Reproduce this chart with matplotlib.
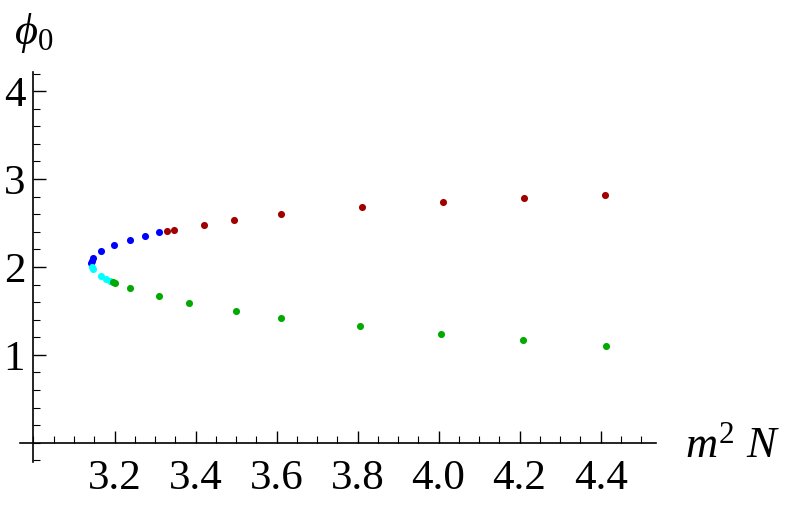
import matplotlib
matplotlib.use("Agg")
import matplotlib.pyplot as plt
from matplotlib.ticker import MultipleLocator

plt.rcParams["font.family"] = ["Liberation Serif", "DejaVu Serif"]
plt.rcParams["mathtext.fontset"] = "custom"
plt.rcParams["mathtext.it"] = "Liberation Serif:italic"
plt.rcParams["mathtext.rm"] = "Liberation Serif"

blue_x = [3.311, 3.275, 3.238, 3.198, 3.166, 3.147, 3.144, 3.141]
blue_y = [2.394, 2.356, 2.310, 2.250, 2.178, 2.105, 2.071, 2.041]
cyan_x = [3.145, 3.148, 3.166, 3.180, 3.189]
cyan_y = [2.003, 1.977, 1.901, 1.867, 1.844]
green_x = [3.196, 3.200, 3.238, 3.311, 3.385, 3.500, 3.612, 3.807, 4.007, 4.209, 4.414]
green_y = [1.826, 1.820, 1.758, 1.667, 1.594, 1.503, 1.420, 1.330, 1.240, 1.170, 1.100]
red_x = [3.329, 3.348, 3.422, 3.496, 3.610, 3.810, 4.010, 4.210, 4.410]
red_y = [2.406, 2.420, 2.480, 2.530, 2.600, 2.680, 2.740, 2.780, 2.820]

fig = plt.figure(figsize=(7.89, 5.09), dpi=100)
ax = fig.add_axes([0.025, 0.092, 0.806, 0.767])

for xs, ys, c in [(blue_x, blue_y, "#0000ff"), (cyan_x, cyan_y, "#00ffff"),
                  (green_x, green_y, "#00aa00"), (red_x, red_y, "#a00000")]:
    ax.scatter(xs, ys, s=26, color=c, linewidths=0, zorder=3)

ax.set_xlim(2.966, 4.536)
ax.set_ylim(-0.22, 4.22)
for s in ["top", "right"]:
    ax.spines[s].set_visible(False)
ax.spines["left"].set_position(("data", 3.0))
ax.spines["bottom"].set_position(("data", 0.0))
for s in ["left", "bottom"]:
    ax.spines[s].set_linewidth(1.2)

ax.set_xticks([3.2, 3.4, 3.6, 3.8, 4.0, 4.2, 4.4])
ax.set_xticklabels(["3.2", "3.4", "3.6", "3.8", "4.0", "4.2", "4.4"])
ax.xaxis.set_minor_locator(MultipleLocator(0.05))
ax.set_yticks([1, 2, 3, 4])
ax.yaxis.set_minor_locator(MultipleLocator(0.2))
ax.tick_params(axis="both", which="major", direction="in", length=9, width=1, labelsize=31)
ax.tick_params(axis="both", which="minor", direction="in", length=5, width=0.8)
ax.tick_params(axis="x", pad=12)
ax.tick_params(axis="y", pad=6)

fig.text(0.868, 0.123, r"$m^2\ N$", fontsize=32, ha="left", va="center")
fig.text(0.018, 0.935, r"$\phi_0$", fontsize=32, ha="left", va="center")

fig.savefig("out.png", dpi=100)
